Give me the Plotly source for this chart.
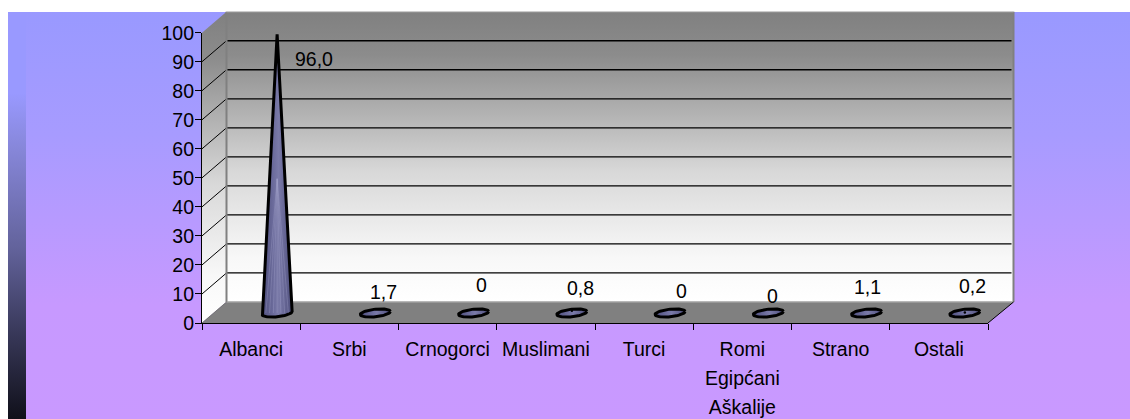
"""Etnicki sastav - cone chart on a gradient slide background"""
import numpy as np
import plotly.graph_objects as go

# Data
categories = ["Albanci", "Srbi", "Crnogorci", "Muslimani", "Turci",
              "Romi<br>Egipćani<br>Aškalije", "Strano", "Ostali"]
values = [96.0, 1.7, 0, 0.8, 0, 0, 1.1, 0.2]
value_labels = ["96,0", "1,7", "0", "0,8", "0", "0", "1,1", "0,2"]
y_ticks = [0, 10, 20, 30, 40, 50, 60, 70, 80, 90, 100]

# Label nudges from each category point (px)
label_dx = [63, 34, 34, 35, 37, 30, 27, 34]
label_dy = [15, -26, -38, -33, -32, -27, -33, -36]

W, H = 1130, 419
LEFT, RIGHT, BOTTOM, TOP = 202, 988, 323, 32.7
DX, DY = 24.5, 21
FONT = "Liberation Sans"
FONT_SIZE = 19.5

fig = go.Figure()


def bg_poly(xs, ys, stops=None, color=None, start=None, stop=None):
    """Filled polygon on the pixel axes behind the chart"""
    kw = dict(x=xs, y=ys, mode="none", fill="toself", hoverinfo="skip",
              showlegend=False, xaxis="x", yaxis="y")
    if stops:
        kw["fillgradient"] = dict(type="vertical", colorscale=stops, start=start, stop=stop)
    else:
        kw["fillcolor"] = color
    fig.add_trace(go.Scatter(**kw))


def bg_line(xs, ys, color="#000000", width=1):
    fig.add_trace(go.Scatter(x=xs, y=ys, mode="lines", line=dict(color=color, width=width),
                             hoverinfo="skip", showlegend=False, xaxis="x", yaxis="y"))


# Slide background and dark strip on the left
bg_poly([8, W, W, 8], [12, 12, H, H], start=12, stop=H, stops=[
    [0, "#9999ff"], [0.3, "#a79bff"], [0.72, "#c799ff"], [1, "#c999ff"]])
bg_poly([8, 26, 26, 8], [12, 12, H, H], start=12, stop=H, stops=[
    [0, "#9999ff"], [0.2, "#9999ff"], [0.34, "#8686d8"], [0.585, "#62629a"],
    [0.78, "#3a3a5c"], [1, "#10101a"]])

# Chart box: back wall, side wall, floor
wall = [[0, "#808080"], [0.15, "#8c8c8c"], [0.55, "#d8d8d8"], [0.85, "#f8f8f8"], [1, "#ffffff"]]
back_x = [LEFT + DX, RIGHT + DX + 1, RIGHT + DX + 1, LEFT + DX]
bg_poly(back_x, [TOP - DY, TOP - DY, BOTTOM - DY, BOTTOM - DY], stops=wall, start=TOP - DY, stop=BOTTOM - DY)
bg_poly([LEFT, LEFT + DX, LEFT + DX, LEFT], [TOP, TOP - DY, BOTTOM - DY, BOTTOM], stops=wall, start=TOP - DY, stop=BOTTOM)
bg_poly([LEFT, LEFT + DX, RIGHT + DX + 1, RIGHT], [BOTTOM, BOTTOM - DY, BOTTOM - DY, BOTTOM], color="#808080")

# Grid lines follow the value scale round the walls
scale = (BOTTOM - TOP) / 100
for t in y_ticks[1:-1]:
    y_front = BOTTOM - t * scale
    bg_line([LEFT + DX, RIGHT + DX - 1], [y_front - DY, y_front - DY], width=1.3)
    bg_line([LEFT, LEFT + DX], [y_front, y_front - DY], width=1)

# Wall edges
bg_line([LEFT + DX, LEFT + DX], [TOP - DY, BOTTOM - DY], color="#808080", width=2)
bg_line([RIGHT + DX + 1, RIGHT + DX + 1], [TOP - DY, BOTTOM - DY], color="#808080", width=2)
bg_line([LEFT + DX, RIGHT + DX + 1], [BOTTOM - DY, BOTTOM - DY], color="#a0a0a0", width=1.5)
bg_line([LEFT + DX, RIGHT + DX + 1], [TOP - DY, TOP - DY], color="#c8c8c8", width=1)
bg_line([RIGHT, RIGHT + DX + 1], [BOTTOM, BOTTOM - DY], width=1)
bg_line([LEFT, LEFT + DX], [BOTTOM, BOTTOM - DY], color="#666666", width=0.8)

# Cones, drawn on the value axes
cone_shift = 26 / 98.25
cone_rx = 15 / 98.25
cone_ry = 3.8 / scale
cone_tilt = 1.5 / scale
cone_lift = 10 / scale
cone_fill = [[0, "#4e4e7c"], [0.4, "#6e6e9e"], [0.55, "#7a7aa8"], [1, "#4e4e7c"]]

for i, v in enumerate(values):
    cx = i + cone_shift
    tip = cone_lift + v
    t = np.linspace(0, 2 * np.pi, 61)
    tall = v > 5
    if tall:
        t = np.linspace(np.pi, 2 * np.pi, 31)
        xs = np.r_[cx, cx + cone_rx * np.cos(t), cx]
        ys = np.r_[tip, cone_lift + cone_ry * np.sin(t) + cone_tilt * np.cos(t), tip]
    else:
        xs = cx + cone_rx * np.cos(t)
        ys = cone_lift + cone_ry * np.sin(t) + cone_tilt * np.cos(t)
    fig.add_trace(go.Scatter(
        x=xs, y=ys, mode="lines", fill="toself", hoverinfo="skip", showlegend=False,
        line=dict(color="#000000", width=3), xaxis="x2", yaxis="y2",
        fillgradient=dict(type="horizontal", colorscale=cone_fill,
                          start=cx - cone_rx, stop=cx + cone_rx)))
    if tall:
        # faint streaks running down from the tip
        for u in np.linspace(-0.75, 0.75, 7):
            fig.add_trace(go.Scatter(
                x=[cx, cx + u * cone_rx], y=[tip * 0.5, cone_lift], mode="lines",
                line=dict(color="rgba(170,170,210,0.3)", width=1),
                hoverinfo="skip", showlegend=False, xaxis="x2", yaxis="y2"))
    elif 0 < v < 1:
        # the tip of a very flat cone shows as a dot inside its base
        fig.add_trace(go.Scatter(
            x=[cx], y=[tip], mode="markers", marker=dict(color="#000000", size=2.5),
            hoverinfo="skip", showlegend=False, xaxis="x2", yaxis="y2"))

# Value labels
for i, (v, lab) in enumerate(zip(values, value_labels)):
    fig.add_annotation(x=i, y=v, xref="x2", yref="y2", text=lab, showarrow=False,
                       xshift=label_dx[i], yshift=-label_dy[i],
                       font=dict(family=FONT, size=FONT_SIZE, color="#000000"))

# Tick font is bigger than the shown text only to open up the line spacing
tick_text = ["<br>".join(f'<span style="font-size:{FONT_SIZE}px">{part}</span>' for part in c.split("<br>"))
             for c in categories]

fig.update_layout(
    width=W, height=H, autosize=False, margin=dict(l=0, r=0, t=0, b=0),
    paper_bgcolor="#ffffff", plot_bgcolor="rgba(0,0,0,0)", showlegend=False,
    font=dict(family=FONT, size=FONT_SIZE, color="#000000"),
    # pixel axes for the backdrop
    xaxis=dict(domain=[0, 1], range=[0, W], visible=False, fixedrange=True, automargin=False),
    yaxis=dict(domain=[0, 1], range=[H, 0], visible=False, fixedrange=True, automargin=False),
    # value axes for the chart itself
    xaxis2=dict(domain=[LEFT / W, RIGHT / W], range=[-0.5, 7.5], anchor="y2", showgrid=False,
                zeroline=False, showline=True, linecolor="#000000", linewidth=1.2,
                tickmode="array", tickvals=list(range(len(categories))), ticktext=tick_text,
                tickfont=dict(size=22.3),
                ticks="outside", ticklen=5, tickcolor="rgba(0,0,0,0)",
                minor=dict(tickmode="array", tickvals=[i - 0.5 for i in range(len(categories) + 1)],
                           ticks="outside", ticklen=6, tickcolor="#000000", tickwidth=1, showgrid=False),
                tickangle=0, fixedrange=True, automargin=False),
    yaxis2=dict(domain=[1 - BOTTOM / H, 1 - TOP / H], range=[0, 100], anchor="x2", showgrid=False,
                zeroline=False, showline=True, linecolor="#000000", linewidth=1.2,
                tickmode="array", tickvals=y_ticks, ticks="outside", ticklen=6, ticklabelstandoff=-3,
                tickcolor="#000000", tickwidth=1, fixedrange=True, automargin=False),
)

fig.write_html("out.html", config={"displayModeBar": False},
               post_script="document.body.style.margin='0';")
